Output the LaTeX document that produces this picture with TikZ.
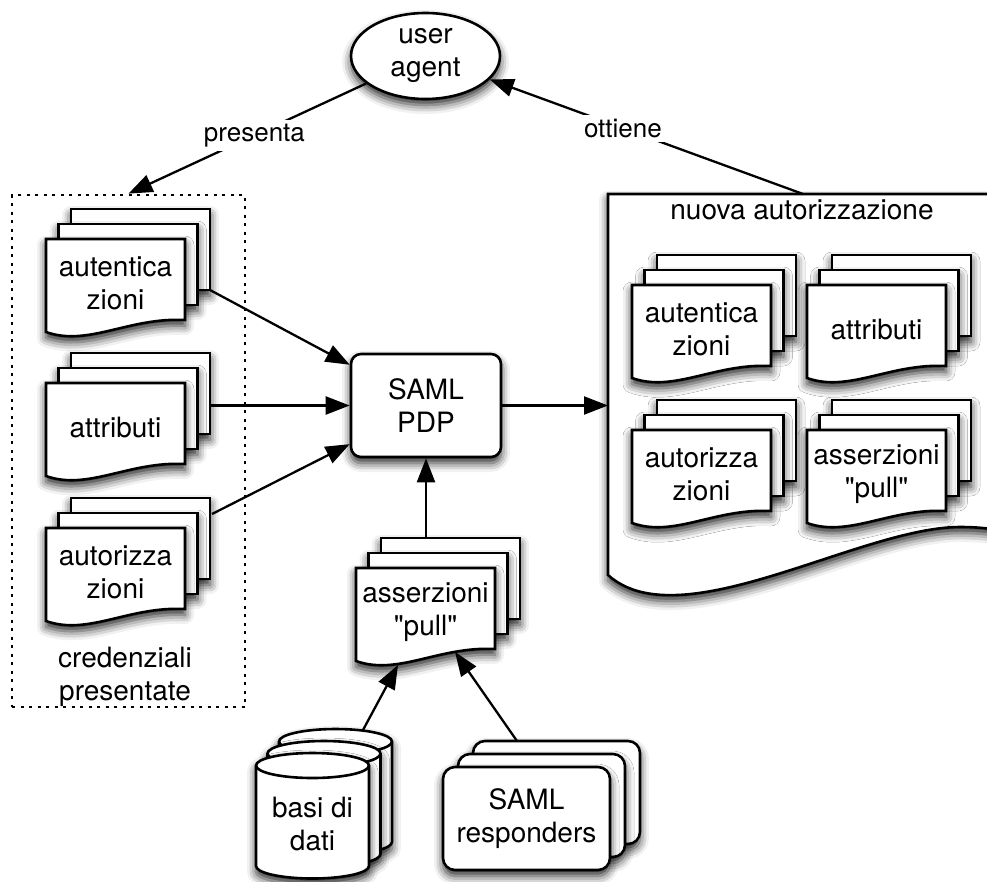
\documentclass[tikz,border=0pt]{standalone}
\usepackage{fontspec}
\setmainfont{TeX Gyre Heros}[Ligatures=TeXOff]
\usetikzlibrary{arrows.meta,calc,shapes.geometric,shadows.blur}

\tikzset{
  softshadow/.style={blur shadow={shadow xshift=0pt,shadow yshift=-6pt,shadow blur radius=9pt,shadow opacity=85}},
  pagebox/.style={draw=black,line width=2.6pt,fill=white,softshadow},
  txt/.style={font=\fontsize{28pt}{33pt}\selectfont,align=center,inner sep=0pt},
  edgetext/.style={font=\fontsize{26pt}{30pt}\selectfont,fill=white,inner sep=4pt},
  conn/.style={line width=2.3pt,-{Triangle[length=24pt,width=18pt,fill=black]}},
  dotframe/.style={draw=black,line width=2.8pt,dash pattern=on 3pt off 5.5pt},
}

% three stacked sheets; the front one has a wavy lower edge
% #1 name of the text node, #2 left x, #3 top y of the front sheet, #4 text
\newcommand\sheetstack[4]{%
  \path[pagebox] (#2+25,#3-30) rectangle (#2+164,#3+51);
  \path[pagebox] (#2+12.5,#3-15) rectangle (#2+151.5,#3+66);
  \path[pagebox] (#2,#3) -- (#2+139,#3) -- (#2+139,#3+81)
     .. controls (#2+83,#3+78) and (#2+42,#3+108) .. (#2,#3+93) -- cycle;
  \node[txt] (#1) at (#2+69.5,#3+44) {#4};
}

% one drum of a database: left x, top rim centre y, bottom rim centre y
\newcommand\drum[3]{%
  \path[pagebox] (#1,#2) -- (#1,#3)
     arc[start angle=180,end angle=360,x radius=56.5pt,y radius=12.5pt]
     -- (#1+113,#2)
     arc[start angle=0,end angle=180,x radius=56.5pt,y radius=12.5pt] -- cycle;
  \draw[line width=2.6pt] (#1,#2)
     arc[start angle=180,end angle=360,x radius=56.5pt,y radius=12.5pt];
}

\begin{document}
\begin{tikzpicture}[x=1pt,y=-1pt]
\useasboundingbox (0,0) rectangle (987,881);

% large sheet holding the new authorization
\path[pagebox] (608,194) -- (1040,194) -- (1040,545)
   .. controls (1020,535) and (1000,527) .. (960,527)
   .. controls (860,527) and (680,640) .. (608,575) -- cycle;
\node[txt] (nuova) at (802,210) {nuova autorizzazione};

\sheetstack{na}{632}{285}{autentica\\zioni}
\sheetstack{nb}{807}{285}{attributi}
\sheetstack{nc}{632}{430}{autorizza\\zioni}
\sheetstack{nd}{807}{430}{asserzioni\\"pull"}

% presented credentials
\node[dotframe,minimum width=233pt,minimum height=512pt,inner sep=0pt] (cred) at (128.5,451) {};
\sheetstack{sa}{46}{239}{autentica\\zioni}
\sheetstack{sb}{46}{383}{attributi}
\sheetstack{sc}{46}{528}{autorizza\\zioni}
\node[txt] (credtxt) at (125,677) {credenziali\\presentate};

% central decision point and user agent
\node[pagebox,txt,ellipse,minimum width=149pt,minimum height=86pt] (ua) at (425.5,56) {user\\agent};
\node[pagebox,txt,rounded corners=10pt,minimum width=150pt,minimum height=103pt] (pdp) at (426,405.5) {SAML\\PDP};

\sheetstack{pull}{356}{568}{asserzioni\\"pull"}

% databases
\drum{279}{741.5}{842}
\drum{267.5}{753.5}{854}
\drum{256}{765.5}{866}
\node[txt] (db) at (312.5,824) {basi di\\dati};

% responders
\node[pagebox,rounded corners=12pt,minimum width=167pt,minimum height=103pt] (respB) at (556.5,792.5) {};
\node[pagebox,rounded corners=12pt,minimum width=167pt,minimum height=103pt] (respM) at (541.5,805.5) {};
\node[pagebox,txt,rounded corners=12pt,minimum width=167pt,minimum height=103pt] (resp) at (526.5,818.5) {SAML\\responders};

% connector end points
\coordinate (saout) at (210,290);
\coordinate (sbout) at (210,405.5);
\coordinate (scout) at (212,514);
\coordinate (bigin) at (608,405.5);
\coordinate (pulltop) at (426,537);
\coordinate (dbtop) at (363,730);
\coordinate (pullin1) at (398,665);
\coordinate (resptop) at (517,741);
\coordinate (pullin2) at (455,652);
\coordinate (bigtop) at (803,194);

\draw[conn] (saout) -- (pdp);
\draw[conn] (sbout) -- (pdp);
\draw[conn] (scout) -- (pdp);
\draw[conn] (pdp) -- (bigin);
\draw[conn] (pulltop) -- (pdp);
\draw[conn] (dbtop) -- (pullin1);
\draw[conn] (resptop) -- (pullin2);
\draw[conn] (ua) -- node[edgetext,pos=0.47] (lpres) {presenta} (cred.north);
\draw[conn] (bigtop) -- node[edgetext,pos=0.575] (lott) {ottiene} (ua);
\end{tikzpicture}
\end{document}
